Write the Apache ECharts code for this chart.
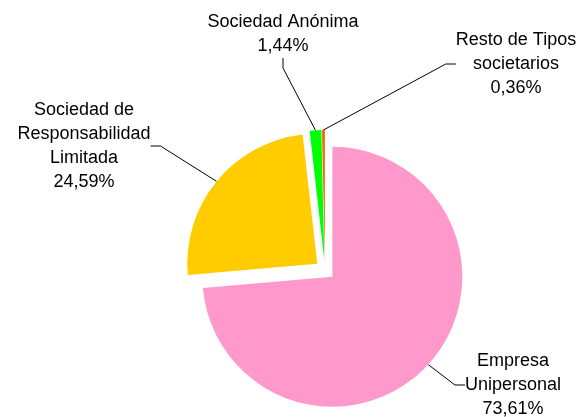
<!DOCTYPE html>
<html>
<head>
<meta charset="utf-8">
<script src="https://cdn.jsdelivr.net/npm/echarts@6/dist/echarts.min.js"></script>
<style>
  html, body { margin: 0; padding: 0; background: #fff; }
  #chart { width: 581px; height: 417px; }
</style>
</head>
<body>
<div id="chart"></div>
<script>
// data
var categories = [
  "Empresa\nUnipersonal",
  "Sociedad de\nResponsabilidad\nLimitada",
  "Sociedad Anónima",
  "Resto de Tipos\nsocietarios"
];
var values = [73.61, 24.59, 1.44, 0.36];
var valueLabels = ["73,61%", "24,59%", "1,44%", "0,36%"];
var colors = ["#FF99CC", "#FFCC00", "#00FF00", "#FF6600"];

// where each label sits (centre of the text block)
var labelPos = [
  { x: 513, y: 385 },
  { x: 84, y: 146 },
  { x: 283, y: 34 },
  { x: 516, y: 64 }
];

var pieCenter = [325, 270];
var pieRadius = 130;
var explode = 10;

var chart = echarts.init(document.getElementById("chart"));

var option = {
  animation: false,
  series: [
    {
      // the exploded slices
      type: "pie",
      center: pieCenter,
      radius: pieRadius,
      startAngle: 90,
      clockwise: true,
      selectedMode: "multiple",
      selectedOffset: explode,
      emphasis: { disabled: true },
      label: { show: false },
      labelLine: { show: false },
      data: values.map(function (v, i) {
        return {
          name: categories[i],
          value: v,
          selected: true,
          itemStyle: { color: colors[i] }
        };
      })
    },
    {
      // invisible twin that only carries the labels and leader lines
      type: "pie",
      silent: true,
      center: pieCenter,
      radius: pieRadius + explode,
      startAngle: 90,
      clockwise: true,
      avoidLabelOverlap: false,
      emphasis: { disabled: true },
      itemStyle: { color: "transparent" },
      label: {
        show: true,
        position: "outside",
        color: "#000",
        fontFamily: "Liberation Sans, Arial, sans-serif",
        fontSize: 18,
        lineHeight: 24,
        align: "center",
        formatter: function (p) {
          return categories[p.dataIndex] + "\n" + valueLabels[p.dataIndex];
        }
      },
      labelLine: {
        show: true,
        length: 10,
        length2: 10,
        lineStyle: { color: "#000", width: 1 }
      },
      labelLayout: function (params) {
        var pos = labelPos[params.dataIndex];
        return {
          x: pos.x,
          y: pos.y,
          align: "center",
          verticalAlign: "middle"
        };
      },
      data: values.map(function (v, i) {
        return { name: categories[i], value: v };
      })
    }
  ]
};

chart.setOption(option);
</script>
</body>
</html>
